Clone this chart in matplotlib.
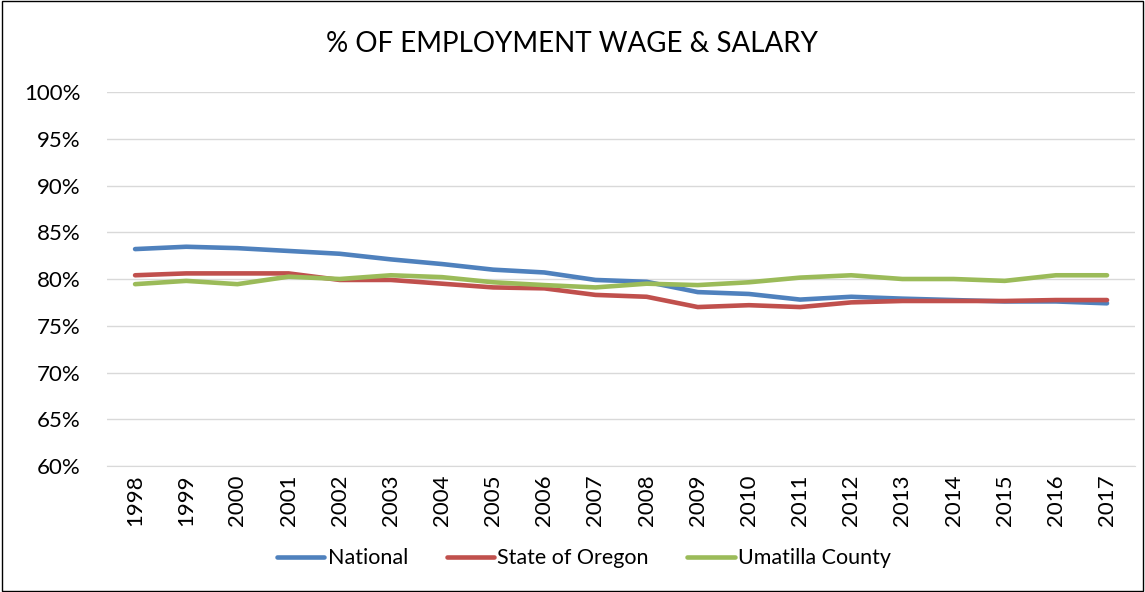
import matplotlib.pyplot as plt
from matplotlib.ticker import PercentFormatter

plt.rcParams['font.family'] = ['Lato', 'DejaVu Sans']

years = list(range(1998, 2018))
national = [83.2, 83.45, 83.3, 83.0, 82.7, 82.1, 81.6, 81.0, 80.7, 79.9,
            79.7, 78.6, 78.4, 77.8, 78.1, 77.9, 77.75, 77.6, 77.6, 77.4]
oregon = [80.4, 80.6, 80.6, 80.6, 79.9, 79.9, 79.5, 79.1, 79.0, 78.3,
          78.1, 77.0, 77.2, 77.0, 77.5, 77.65, 77.65, 77.65, 77.75, 77.75]
umatilla = [79.45, 79.8, 79.45, 80.25, 80.0, 80.4, 80.2, 79.65, 79.35, 79.1,
            79.5, 79.35, 79.65, 80.15, 80.4, 80.0, 80.0, 79.8, 80.4, 80.4]

fig = plt.figure(figsize=(11.45, 5.92), dpi=100)
ax = fig.add_axes([0.0934, 0.2128, 0.898, 0.6318])

ax.plot(years, national, color='#4f81bd', lw=3.3, label='National', solid_capstyle='round')
ax.plot(years, oregon, color='#c0504d', lw=3.3, label='State of Oregon', solid_capstyle='round')
ax.plot(years, umatilla, color='#9bbb59', lw=3.3, label='Umatilla County', solid_capstyle='round')

ax.set_ylim(60, 100)
ax.set_yticks(range(60, 101, 5))
ax.yaxis.set_major_formatter(PercentFormatter(decimals=0))
ax.set_xlim(1997.45, 2017.55)
ax.set_xticks(years)
ax.set_xticklabels([str(y) for y in years], rotation=90)
ax.grid(axis='y', color='#d9d9d9', lw=1)
ax.set_axisbelow(True)
for s in ['top', 'right', 'left']:
    ax.spines[s].set_visible(False)
ax.spines['bottom'].set_color('#d9d9d9')
ax.tick_params(axis='both', length=0, labelsize=16, colors='black')
ax.tick_params(axis='y', pad=19)
ax.tick_params(axis='x', pad=6)

fig.text(0.5, 0.925, '% OF EMPLOYMENT WAGE & SALARY', ha='center', va='center', fontsize=20)
fig.legend(loc='center', bbox_to_anchor=(0.51, 0.057), ncol=3, frameon=False,
           fontsize=15.5, handlelength=2.2, handletextpad=0.15, columnspacing=1.8)

# outer frame
fig.add_artist(plt.Rectangle((0.002, 0.002), 0.996, 0.996, transform=fig.transFigure,
                             fill=False, ec='black', lw=1))

fig.savefig('out.png', dpi=100)
